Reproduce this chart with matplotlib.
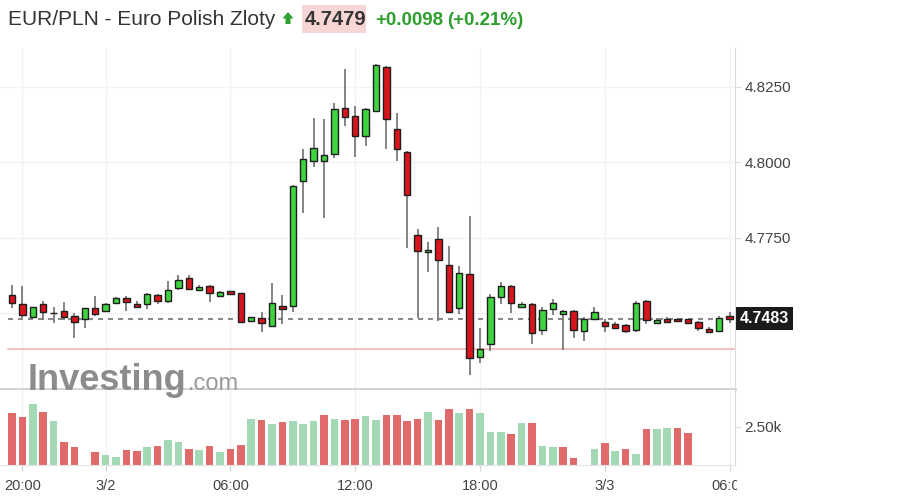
import numpy as np
import matplotlib
matplotlib.use('Agg')
import matplotlib.pyplot as plt
from matplotlib.patches import Polygon, Rectangle
from matplotlib.transforms import Bbox, TransformedBbox

plt.rcParams['font.family'] = ['Liberation Sans', 'DejaVu Sans']

## 30 minute candles, 3/1 19:30 -> 3/3 06:00
opens = [4.7562, 4.7532, 4.7489, 4.7531, 4.7500, 4.7509, 4.7492, 4.7481, 4.7517, 4.7508,
         4.7534, 4.7552, 4.7532, 4.7531, 4.7562, 4.7541, 4.7585, 4.7617, 4.7577, 4.7591,
         4.7559, 4.7575, 4.7567, 4.7475, 4.7486, 4.7460, 4.7526, 4.7525, 4.7939, 4.8005,
         4.8005, 4.8027, 4.8181, 4.8154, 4.8088, 4.8171, 4.8317, 4.8111, 4.8036, 4.7760,
         4.7703, 4.7747, 4.7661, 4.7517, 4.7630, 4.7357, 4.7399, 4.7556, 4.7592, 4.7521,
         4.7531, 4.7445, 4.7514, 4.7499, 4.7508, 4.7442, 4.7481, 4.7473, 4.7464, 4.7461,
         4.7445, 4.7542, 4.7468, 4.7483, 4.7483, 4.7481, 4.7473, 4.7449, 4.7442, 4.7493]
highs = [4.7594, 4.7591, 4.7523, 4.7541, 4.7522, 4.7537, 4.7501, 4.7518, 4.7558, 4.7535,
         4.7555, 4.7559, 4.7541, 4.7567, 4.7565, 4.7609, 4.7628, 4.7628, 4.7593, 4.7593,
         4.7576, 4.7576, 4.7568, 4.7488, 4.7506, 4.7602, 4.7561, 4.7926, 4.8045, 4.8148,
         4.8143, 4.8196, 4.8309, 4.8187, 4.8179, 4.8325, 4.8320, 4.8165, 4.8038, 4.7780,
         4.7736, 4.7787, 4.7723, 4.7658, 4.7822, 4.7451, 4.7564, 4.7605, 4.7594, 4.7539,
         4.7534, 4.7523, 4.7547, 4.7510, 4.7510, 4.7489, 4.7523, 4.7482, 4.7472, 4.7464,
         4.7541, 4.7545, 4.7486, 4.7488, 4.7484, 4.7483, 4.7475, 4.7456, 4.7493, 4.7506]
lows = [4.7517, 4.7484, 4.7487, 4.7479, 4.7470, 4.7479, 4.7418, 4.7451, 4.7492, 4.7505,
        4.7532, 4.7509, 4.7518, 4.7514, 4.7531, 4.7536, 4.7578, 4.7580, 4.7576, 4.7539,
        4.7556, 4.7562, 4.7472, 4.7474, 4.7440, 4.7456, 4.7464, 4.7504, 4.7832, 4.7985,
        4.7815, 4.8014, 4.8122, 4.8019, 4.8055, 4.8168, 4.8045, 4.8005, 4.7716, 4.7484,
        4.7638, 4.7475, 4.7502, 4.7499, 4.7296, 4.7335, 4.7376, 4.7531, 4.7501, 4.7519,
        4.7399, 4.7429, 4.7495, 4.7379, 4.7418, 4.7409, 4.7479, 4.7440, 4.7450, 4.7434,
        4.7440, 4.7465, 4.7465, 4.7470, 4.7474, 4.7465, 4.7443, 4.7436, 4.7441, 4.7468]
closes = [4.7534, 4.7495, 4.7521, 4.7504, 4.7502, 4.7489, 4.7473, 4.7517, 4.7498, 4.7532,
          4.7552, 4.7537, 4.7521, 4.7564, 4.7542, 4.7578, 4.7611, 4.7581, 4.7587, 4.7569,
          4.7571, 4.7564, 4.7473, 4.7487, 4.7468, 4.7534, 4.7515, 4.7923, 4.8011, 4.8049,
          4.8025, 4.8176, 4.8152, 4.8088, 4.8176, 4.8323, 4.8143, 4.8044, 4.7892, 4.7707,
          4.7711, 4.7676, 4.7506, 4.7634, 4.7352, 4.7382, 4.7556, 4.7591, 4.7534, 4.7532,
          4.7434, 4.7512, 4.7534, 4.7508, 4.7445, 4.7481, 4.7504, 4.7459, 4.7453, 4.7442,
          4.7536, 4.7479, 4.7479, 4.7472, 4.7475, 4.7470, 4.7451, 4.7438, 4.7486, 4.7483]

volumes = [3420, 3160, 4010, 3490, 2900, 1510, 1180, 0, 860, 660,
           530, 990, 920, 1180, 1250, 1650, 1510, 1050, 990, 1250,
           860, 1050, 1320, 3030, 2960, 2700, 2830, 2900, 2700, 2900,
           3290, 3030, 2960, 3030, 3220, 2960, 3290, 3290, 2900, 3030,
           3490, 2960, 3680, 3420, 3680, 3420, 2170, 2170, 2040, 2760,
           2760, 1250, 1180, 1180, 460, 0, 1050, 1450, 920, 1050,
           720, 2370, 2370, 2430, 2430, 2100]
vol_up = [0, 0, 1, 0, 1, 0, 0, 0, 0, 1,
          1, 0, 0, 1, 0, 1, 1, 0, 1, 0,
          1, 0, 0, 1, 0, 1, 0, 1, 1, 1,
          0, 1, 0, 0, 1, 1, 0, 0, 0, 0,
          1, 0, 0, 1, 0, 1, 1, 1, 0, 1,
          0, 1, 1, 0, 0, 0, 1, 0, 1, 0,
          1, 0, 1, 1, 0, 0]

tick_idx = [1, 9, 21, 33, 45, 57, 69]
tick_labels = ['20:00', '3/2', '06:00', '12:00', '18:00', '3/3', '06:00']
price_ticks = [4.7500, 4.7750, 4.8000, 4.8250]
last_price = 4.7483
prev_close = 4.7381

GREEN = '#3fd33f'
RED = '#d8151c'
VGREEN = '#a3d9b5'
VRED = '#e06a6a'

W, H = 920, 501
fig = plt.figure(figsize=(W / 100, H / 100), dpi=100)


def rect(l, t, r, b):
    return [l / W, 1 - b / H, (r - l) / W, (b - t) / H]


ax = fig.add_axes(rect(0, 48, 735, 389))
axv = fig.add_axes(rect(0, 390, 735, 465), sharex=ax)

## -- candles
x = np.arange(len(opens))
o = np.array(opens)
c = np.array(closes)
colors = np.where(c >= o, GREEN, RED)
ax.vlines(x, lows, highs, color='#707070', lw=1.2, zorder=2)
ax.bar(x, np.maximum(np.abs(c - o), 0.0001), bottom=np.minimum(o, c), width=0.6,
       color=colors, edgecolor='#1e1e1e', linewidth=1, zorder=3)

ax.axhline(last_price, xmin=8 / 735, color='#8a8a8a', lw=1.5, ls=(0, (2.4, 2.4)), zorder=1)
ax.axhline(prev_close, xmin=8 / 735, color='#f3b5b5', lw=1.2, zorder=1)

ax.set_xlim(-12 / 10.4, (735 - 12) / 10.4)
ax.set_ylim(4.7250, 4.8379)
ax.yaxis.tick_right()
ax.set_yticks(price_ticks)
# the 4.7500 label sits under the last price tag
ax.set_yticklabels(['' if abs(p - last_price) < 0.004 else '%.4f' % p for p in price_ticks])
ax.tick_params(axis='y', length=4, color='#dddddd', labelcolor='#444444', labelsize=11, pad=3)
ax.tick_params(axis='x', length=0, labelbottom=False)
ax.set_xticks(tick_idx)
ax.grid(True, color='#f3f3f3', lw=1)
ax.set_axisbelow(True)
for s in ['top', 'left']:
    ax.spines[s].set_visible(False)
ax.spines['right'].set_color('#dcdcdc')
ax.spines['bottom'].set_color('#d2d2d2')
ax.spines['bottom'].set_linewidth(2)

## -- volume
vx = np.arange(len(volumes))
vcol = [VGREEN if u else VRED for u in vol_up]
axv.bar(vx, volumes, width=0.72, color=vcol, linewidth=0)
axv.set_ylim(0, 4934)
axv.yaxis.tick_right()
axv.set_yticks([2500])
axv.set_yticklabels(['2.50k'])
axv.set_xticks(tick_idx)
axv.set_xticklabels(tick_labels)
axv.tick_params(axis='y', length=4, color='#dddddd', labelcolor='#444444', labelsize=11, pad=3)
axv.tick_params(axis='x', length=4, color='#d5d5d5', labelcolor='#444444', labelsize=10.5, pad=6)
axv.grid(True, axis='x', color='#f3f3f3', lw=1)
axv.set_axisbelow(True)
for s in ['top', 'left']:
    axv.spines[s].set_visible(False)
axv.spines['right'].set_color('#dcdcdc')
axv.spines['bottom'].set_color('#e4e4e4')

clip = TransformedBbox(Bbox.from_extents(0, 0, 737 / W, 1), fig.transFigure)
for lbl in axv.get_xticklabels():
    lbl.set_clip_box(clip)
    lbl.set_clip_on(True)

## -- last price tag
fig.text(740 / W, 1 - 318.6 / H, '%.4f' % last_price, color='white', fontweight='bold',
         fontsize=11.5, va='center', ha='left',
         bbox=dict(boxstyle='square,pad=0.25', fc='#1a1a1a', ec='none'))

## -- watermark
fig.text(28 / W, 1 - 390 / H, 'Investing', fontsize=26, fontweight='bold', color='#8c8c8c', va='baseline')
fig.text(188 / W, 1 - 390 / H, '.com', fontsize=17, color='#9a9a9a', va='baseline')

## -- header
base = 1 - 25 / H
fig.text(8 / W, base, 'EUR/PLN - Euro Polish Zloty', fontsize=15, color='#333333', va='baseline')
arrow = [(288, 12), (282.5, 18.5), (285.5, 18.5), (285.5, 24), (290.5, 24), (290.5, 18.5), (293.5, 18.5)]
fig.add_artist(Polygon([(px / W, 1 - py / H) for px, py in arrow], closed=True,
                       transform=fig.transFigure, fc='#2e9e2e', ec='none'))
fig.add_artist(Rectangle((302 / W, 1 - 33 / H), 64 / W, 28 / H, transform=fig.transFigure,
                         fc='#f9d6d6', ec='none'))
fig.text(305 / W, base, '4.7479', fontsize=14.5, fontweight='bold', color='#333333', va='baseline')
fig.text(375 / W, base, '+0.0098', fontsize=13.5, fontweight='bold', color='#2e9e2e', va='baseline')
fig.text(447 / W, base, '(+0.21%)', fontsize=13.5, fontweight='bold', color='#2e9e2e', va='baseline')

plt.savefig('out.png', dpi=100)
